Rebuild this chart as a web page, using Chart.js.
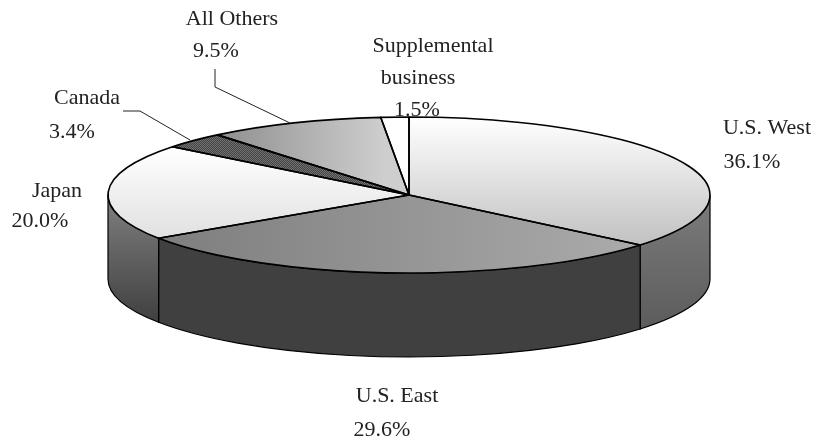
<!DOCTYPE html>
<html>
<head>
<meta charset="utf-8">
<style>
html, body { margin: 0; padding: 0; background: #fff; }
canvas { display: block; }
</style>
<script src="https://cdn.jsdelivr.net/npm/chart.js@4"></script>
</head>
<body>
<canvas id="pie_chart" width="817" height="440"></canvas>
<script>
// data
const categories = ['U.S. West', 'U.S. East', 'Japan', 'Canada', 'All Others', 'Supplemental business']
const shares = [36.1, 29.6, 20.0, 3.4, 9.5, 1.5]

// where the flattened pie sits on the page
const CX = 409, CY = 195, RX = 301, RY = 78, DEPTH = 84

// label lines: category words, then the share
const labelLines = [['U.S. West'], ['U.S. East'], ['Japan'], ['Canada'], ['All Others'], ['Supplemental', 'business']]
const labelPos = [
	[[767, 128], [752, 162]],
	[[397, 396], [382, 430]],
	[[57, 191], [40, 221]],
	[[87, 98], [72, 132]],
	[[232, 19], [216, 51]],
	[[433, 46], [418, 78], [417, 110]]
]
const leaders = [
	[[215, 69], [215, 87], [290, 123]],
	[[123, 111], [140, 111], [190, 140]]
]

// chart has no padding or legend, so the pie fills the canvas height
function pieScale(chart) {
	return { x: chart.width / 2, y: chart.height / 2, r: Math.min(chart.width, chart.height) / 2 }
}

// page coords -> pie coords, fills are used under the flattening transform
function grad(chart, x0, y0, x1, y1, stops) {
	const p = pieScale(chart)
	const fx = v => p.x + (v - CX) * p.r / RX
	const fy = v => p.y + (v - CY) * p.r / RY
	const g = chart.ctx.createLinearGradient(fx(x0), fy(y0), fx(x1), fy(y1))
	stops.forEach((c, i) => g.addColorStop(i / (stops.length - 1), c))
	return g
}

function hatch(chart) {
	const p = pieScale(chart)
	const tile = document.createElement('canvas')
	tile.width = 2
	tile.height = 2
	const t = tile.getContext('2d')
	t.fillStyle = '#7a7a7a'
	t.fillRect(0, 0, 2, 2)
	t.fillStyle = '#3c3c3c'
	t.fillRect(0, 0, 1, 1)
	t.fillRect(1, 1, 1, 1)
	const pat = chart.ctx.createPattern(tile, 'repeat')
	pat.setTransform(new DOMMatrix().scale(p.r / RX, p.r / RY))
	return pat
}

function sliceFill(c) {
	const chart = c.chart
	switch (c.dataIndex) {
		case 0: return grad(chart, 0, 118, 0, 243, ['#ffffff', '#c2c2c2'])
		case 1: return grad(chart, 160, 0, 640, 0, ['#7e7e7e', '#ababab'])
		case 2: return grad(chart, 0, 148, 0, 240, ['#ffffff', '#e0e0e0'])
		case 3: return hatch(chart)
		case 4: return grad(chart, 216, 0, 384, 0, ['#8e8e8e', '#cecece'])
		default: return '#ffffff'
	}
}

function wallFill(ctx, i) {
	let g
	if (i === 0) {
		g = ctx.createLinearGradient(0, 195, 0, 328)
		g.addColorStop(0, '#7c7c7c')
		g.addColorStop(1, '#5c5c5c')
		return g
	}
	if (i === 2) {
		g = ctx.createLinearGradient(0, 195, 0, 322)
		g.addColorStop(0, '#808080')
		g.addColorStop(1, '#404040')
		return g
	}
	return '#404040'
}

// pie angle -> page point on the top ellipse
const ex = a => CX + RX * Math.cos(a)
const ey = a => CY + RY * Math.sin(a)

const pie3d = {
	id: 'pie3d',
	beforeDatasetsDraw(chart) {
		const ctx = chart.ctx
		const arcs = chart.getDatasetMeta(0).data
		ctx.save()
		ctx.strokeStyle = '#000'
		ctx.lineWidth = 1.2
		// side wall only on the front half, angles 0..PI
		arcs.forEach((arc, i) => {
			for (const k of [0, 2]) {
				const a0 = Math.max(arc.startAngle, k * Math.PI)
				const a1 = Math.min(arc.endAngle, (k + 1) * Math.PI)
				if (a1 <= a0) continue
				ctx.beginPath()
				ctx.ellipse(CX, CY, RX, RY, 0, a0, a1)
				ctx.lineTo(ex(a1), ey(a1) + DEPTH)
				ctx.ellipse(CX, CY + DEPTH, RX, RY, 0, a1, a0, true)
				ctx.closePath()
				ctx.fillStyle = wallFill(ctx, i)
				ctx.fill()
				ctx.stroke()
			}
		})
		ctx.restore()

		// flatten the circle for the library's own arc drawing
		const p = pieScale(chart)
		ctx.save()
		ctx.translate(CX, CY)
		ctx.scale(RX / p.r, RY / p.r)
		ctx.translate(-p.x, -p.y)
	},
	afterDatasetsDraw(chart) {
		const ctx = chart.ctx
		ctx.restore()
		const arcs = chart.getDatasetMeta(0).data

		ctx.save()
		ctx.strokeStyle = '#000'
		ctx.lineWidth = 1.6
		ctx.lineJoin = 'round'
		arcs.forEach(arc => {
			ctx.beginPath()
			ctx.moveTo(CX, CY)
			ctx.ellipse(CX, CY, RX, RY, 0, arc.startAngle, arc.endAngle)
			ctx.closePath()
			ctx.stroke()
		})

		ctx.lineWidth = 1
		ctx.strokeStyle = '#222'
		leaders.forEach(pts => {
			ctx.beginPath()
			pts.forEach((pt, i) => i ? ctx.lineTo(pt[0], pt[1]) : ctx.moveTo(pt[0], pt[1]))
			ctx.stroke()
		})

		ctx.fillStyle = '#222'
		ctx.font = '22px "Liberation Serif"'
		ctx.textAlign = 'center'
		ctx.textBaseline = 'middle'
		shares.forEach((v, i) => {
			const lines = labelLines[i].concat(v.toFixed(1) + '%')
			lines.forEach((txt, j) => ctx.fillText(txt, labelPos[i][j][0], labelPos[i][j][1]))
		})
		ctx.restore()
	}
}

const pie_chart = new Chart(document.getElementById('pie_chart').getContext('2d'), {
	type: 'pie',
	data: {
		labels: categories,
		datasets: [{
			data: shares,
			backgroundColor: sliceFill,
			borderWidth: 0
		}]
	},
	options: {
		responsive: false,
		animation: false,
		plugins: {
			legend: { display: false },
			tooltip: { enabled: false }
		}
	},
	plugins: [pie3d]
})
</script>
</body>
</html>
